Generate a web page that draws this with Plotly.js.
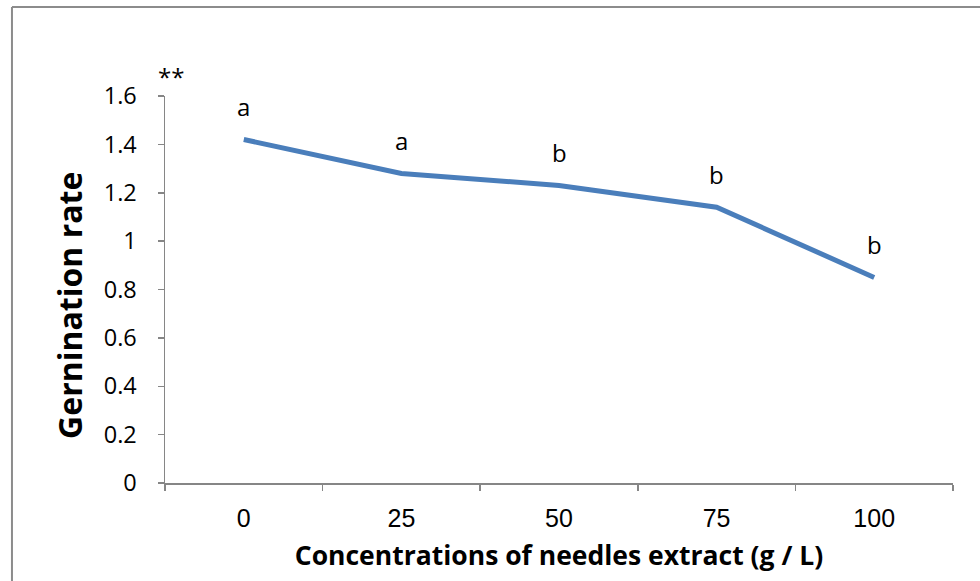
<!DOCTYPE html>
<html>
<head>
<meta charset="utf-8">
<script src="https://cdn.plot.ly/plotly-3.0.1.min.js"></script>
<style>
html,body{margin:0;padding:0;background:#fff;}
#chart{width:980px;height:581px;}
</style>
</head>
<body>
<div id="chart"></div>
<script>
var categories = ["0", "25", "50", "75", "100"];
var germinationRate = [1.42, 1.28, 1.23, 1.14, 0.85];
var groupLetters = ["a", "a", "b", "b", "b"];
var yTickValues = [0, 0.2, 0.4, 0.6, 0.8, 1, 1.2, 1.4, 1.6];
var yTickLabels = ["0", "0.2", "0.4", "0.6", "0.8", "1", "1.2", "1.4", "1.6"];
var yTitle = "Gernination rate";
var xTitle = "Concentrations of needles extract (g / L)";

var trace = {
  x: categories,
  y: germinationRate,
  type: "scatter",
  mode: "lines",
  line: {color: "#4A7EBB", width: 5},
  hoverinfo: "skip",
  showlegend: false
};

var annotations = categories.map(function (c, i) {
  return {
    x: i, y: germinationRate[i], xref: "x", yref: "y",
    text: groupLetters[i], showarrow: false, yshift: 33,
    font: {family: "Open Sans", size: 24, color: "#000"}
  };
});
annotations.push({
  x: 0.008, y: 1.05, xref: "paper", yref: "paper",
  text: "**", showarrow: false, xanchor: "center", yanchor: "middle",
  font: {family: "Open Sans", size: 24, color: "#000"}
});
annotations.push({
  x: -0.1206, y: 0.46, xref: "paper", yref: "paper",
  text: "<b>" + yTitle + "</b>", textangle: -90, showarrow: false,
  xanchor: "center", yanchor: "middle",
  font: {family: "Open Sans", size: 32, color: "#000"}
});

var layout = {
  width: 980, height: 581,
  margin: {l: 165, r: 27, t: 96, b: 98, pad: 0},
  paper_bgcolor: "#fff", plot_bgcolor: "#fff",
  xaxis: {
    type: "category",
    range: [-0.5, 4.5],
    showgrid: false, zeroline: false,
    showline: true, linecolor: "#868686", linewidth: 1.5,
    ticks: "outside", tickson: "boundaries", ticklen: 6, tickcolor: "#868686", tickwidth: 1.5,
    ticklabelstandoff: 12,
    tickfont: {family: "Liberation Sans", size: 25, color: "#000"},
    title: {text: xTitle, standoff: 16,
      font: {family: "Open Sans", size: 26.5, color: "#000", weight: "bold"}}
  },
  yaxis: {
    range: [0, 1.6],
    tickvals: yTickValues, ticktext: yTickLabels,
    showgrid: false, zeroline: false,
    showline: true, linecolor: "#868686", linewidth: 1.5,
    ticks: "outside", ticklen: 6, tickcolor: "#868686", tickwidth: 1.5,
    ticklabelstandoff: 16,
    tickfont: {family: "Open Sans", size: 23.5, color: "#000"}
  },
  annotations: annotations,
  shapes: [
    {type: "line", xref: "paper", yref: "paper", x0: -0.1942, x1: 1.1, y0: 1.230, y1: 1.230,
      line: {color: "#8c8c8c", width: 2}},
    {type: "line", xref: "paper", yref: "paper", x0: -0.1942, x1: -0.1942, y0: -0.3, y1: 1.230,
      line: {color: "#8c8c8c", width: 2}}
  ]
};

Plotly.newPlot("chart", [trace], layout, {displayModeBar: false, staticPlot: true});
</script>
</body>
</html>
